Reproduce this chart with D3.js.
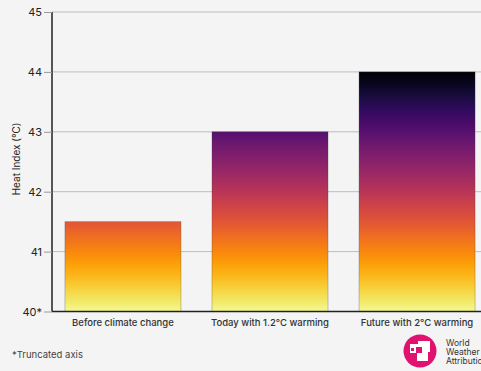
<!DOCTYPE html>
<html>
<head>
<meta charset="utf-8">
<script src="https://cdn.jsdelivr.net/npm/d3@7"></script>
<style>
  html, body { margin: 0; padding: 0; background: #f4f4f4; }
  svg { display: block; }
</style>
</head>
<body>
<svg id="chart" width="481" height="371"></svg>
<script>
// Heat index by warming scenario (°C); the y axis starts at 40 (truncated)
const categories = ["Before climate change", "Today with 1.2°C warming", "Future with 2°C warming"];
const heatIndex = [41.5, 43, 44];
const tickValues = [40, 41, 42, 43, 44, 45];
const tickLabels = ["40*", "41", "42", "43", "44", "45"];

const W = 481, H = 371;
const svg = d3.select("#chart");
const font = "Inter, 'Liberation Sans', Arial, sans-serif";

svg.append("rect").attr("width", W).attr("height", H).attr("fill", "#f4f4f4");

const y = d3.scaleLinear().domain([40, 45]).range([311.5, 12]);
const x = d3.scaleBand().domain(categories).range([52, 488]).paddingInner(0.211).paddingOuter(0.088);

// Colour ramp keyed to the value: pale yellow at 40 through to black at 44
const defs = svg.append("defs");
const grad = defs.append("linearGradient")
  .attr("id", "heat")
  .attr("gradientUnits", "userSpaceOnUse")
  .attr("x1", 0).attr("x2", 0)
  .attr("y1", y(40)).attr("y2", y(44));
d3.range(0, 1.0001, 0.05).forEach(t => {
  grad.append("stop")
    .attr("offset", t)
    .attr("stop-color", d3.interpolateInferno(0.98 - t * 0.97));
});

// Gridlines
svg.append("g")
  .selectAll("line")
  .data(tickValues.slice(1))
  .join("line")
  .attr("x1", 52).attr("x2", W)
  .attr("y1", d => y(d)).attr("y2", d => y(d))
  .attr("stroke", "#bdbdbd").attr("stroke-width", 1);

// Bars
svg.append("g")
  .selectAll("rect")
  .data(categories)
  .join("rect")
  .attr("x", d => x(d))
  .attr("width", x.bandwidth())
  .attr("y", (d, i) => y(heatIndex[i]))
  .attr("height", (d, i) => y(40) - y(heatIndex[i]))
  .attr("fill", "url(#heat)")
  .attr("stroke", "rgba(60,60,60,0.35)")
  .attr("stroke-width", 0.8);

// Y axis
const yAxis = d3.axisLeft(y)
  .tickValues(tickValues)
  .tickFormat((d, i) => tickLabels[i])
  .tickSize(8)
  .tickPadding(2);
const gy = svg.append("g").attr("transform", "translate(52,0)").call(yAxis);
gy.select(".domain").attr("stroke", "#222").attr("stroke-width", 1.5).attr("d", `M0,${y(45)}V${y(40)}`);
gy.selectAll(".tick line").attr("stroke", "#999");
gy.selectAll(".tick text")
  .attr("font-family", font).attr("font-size", 11).attr("fill", "#222");

// X axis baseline
svg.append("line")
  .attr("x1", 52).attr("x2", W)
  .attr("y1", y(40)).attr("y2", y(40))
  .attr("stroke", "#222").attr("stroke-width", 1.5);

// Category labels
svg.append("g")
  .selectAll("text")
  .data(categories)
  .join("text")
  .attr("x", d => x(d) + x.bandwidth() / 2)
  .attr("y", 326)
  .attr("text-anchor", "middle")
  .attr("font-family", font).attr("font-size", 9.5).attr("font-weight", 500).attr("fill", "#333")
  .text(d => d);

// Y axis title
svg.append("text")
  .attr("transform", `translate(20,${159}) rotate(-90)`)
  .attr("text-anchor", "middle")
  .attr("font-family", font).attr("font-size", 10).attr("fill", "#222")
  .text("Heat Index (°C)");

// Footnote
svg.append("text")
  .attr("x", 12).attr("y", 358)
  .attr("font-family", font).attr("font-size", 9.5).attr("fill", "#444")
  .text("*Truncated axis");

// World Weather Attribution mark
const logo = svg.append("g").attr("transform", "translate(420,351)");
logo.append("circle").attr("r", 16.5).attr("fill", "#e0116f");
logo.append("rect").attr("x", -10).attr("y", -7).attr("width", 10).attr("height", 9).attr("fill", "#fff");
logo.append("rect").attr("x", -2).attr("y", -10).attr("width", 12).attr("height", 11).attr("fill", "#fff");
logo.append("rect").attr("x", -3).attr("y", 0).attr("width", 11).attr("height", 10).attr("fill", "#fff");
logo.append("rect").attr("x", -4).attr("y", -4).attr("width", 6).attr("height", 6).attr("fill", "#e0116f");
logo.append("rect").attr("x", -9).attr("y", -3).attr("width", 3).attr("height", 3).attr("fill", "#e0116f");

const wwa = svg.append("text")
  .attr("font-family", font).attr("font-size", 8.5).attr("fill", "#333");
["World", "Weather", "Attribution"].forEach((t, i) => {
  wwa.append("tspan").attr("x", 446).attr("y", 346 + i * 9).text(t);
});
</script>
</body>
</html>
